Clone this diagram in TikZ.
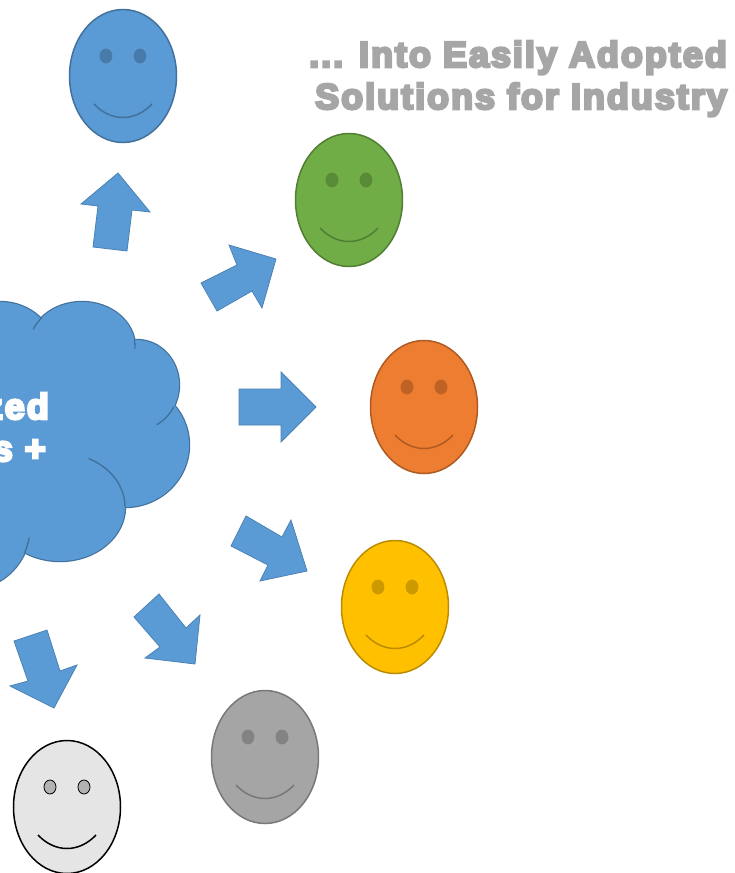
\documentclass[tikz,border=0pt]{standalone}
\usepackage{fontspec}
\newfontfamily\heavy[FakeBold=7,LetterSpace=5.5]{Liberation Sans Bold}
\definecolor{blu}{HTML}{5B9BD5}
\definecolor{bluD}{HTML}{41719C}
\definecolor{grn}{HTML}{70AD47}
\definecolor{grnD}{HTML}{507E32}
\definecolor{org}{HTML}{ED7D31}
\definecolor{orgD}{HTML}{AE5A21}
\definecolor{yel}{HTML}{FFC000}
\definecolor{yelD}{HTML}{BC8C00}
\definecolor{gry}{HTML}{A5A5A5}
\definecolor{gryD}{HTML}{787878}
\definecolor{txtg}{HTML}{A6A6A6}
\tikzset{
  x=1pt,y=-1pt,
  blockarrow/.style={fill=blu,draw=bluD!60!blu,line width=.8pt,line join=miter},
  cloudline/.style={draw=bluD,line width=1.4pt},
  headline/.style={text=txtg,font=\heavy\fontsize{36}{42}\selectfont,anchor=base east,inner sep=0pt},
  cloudtext/.style={text=white,font=\heavy\fontsize{36}{42}\selectfont,anchor=base east,inner sep=0pt},
}
% face: cx, cy, fill, outline, eye fill, eye outline
\newcommand{\smiley}[6]{%
  \draw[fill=#3,draw=#4,line width=1.5pt] (#1,#2) ellipse [x radius=53.5,y radius=66.5];
  \draw[fill=#5,draw=#6,line width=.8pt] (#1-17,#2-20) ellipse [x radius=6,y radius=7];
  \draw[fill=#5,draw=#6,line width=.8pt] (#1+17,#2-20) ellipse [x radius=6,y radius=7];
  \draw[draw=#4,line width=1.5pt] (#1-29,#2+28) .. controls (#1-12,#2+46) and (#1+12,#2+46) .. (#1+29,#2+28);
}
\newcommand{\lobe}[6]{\draw[cloudline] plot[smooth,domain=#5:#6,samples=14] ({#1+#3*cos(\x)},{#2+#4*sin(\x)});}
\begin{document}
\begin{tikzpicture}
\useasboundingbox (0,0) rectangle (735,873);
\clip (0,0) rectangle (735,873);
% cloud outline, then fill over it
\foreach \c/\d/\a/\b in {82/347/53/45,137/385/42/45,125/445/64/62,60/507/65/54,-30/527/60/62,0/352/55/50}{
  \draw[cloudline,line width=2.4pt,fill=blu] (\c,\d) ellipse [x radius=\a,y radius=\b];
}
\foreach \c/\d/\a/\b in {82/347/53/45,137/385/42/45,125/445/64/62,60/507/65/54,-30/527/60/62,0/352/55/50}{
  \fill[blu] (\c,\d) ellipse [x radius=\a,y radius=\b];
}
\fill[blu] (-5,340) rectangle (110,500);
\lobe{82}{347}{53}{45}{203}{221}
\lobe{82}{347}{53}{45}{-9}{2}
\lobe{137}{385}{42}{45}{29}{62}
\lobe{60}{507}{65}{54}{-64}{0}
\lobe{-30}{527}{60}{62}{10}{25}
\node[cloudtext] (cloudA) at (49,419) {zed};
\node[cloudtext] (cloudB) at (46,461) {s +};
% heading
\node[headline] (headA) at (727,67) {... Into Easily Adopted};
\node[headline] (headB) at (727,109) {Solutions for Industry};
% block arrows
\draw[blockarrow] (118,173)--(150,212)--(132,210)--(127,251)--(93,247)--(98,206)--(81,204)--cycle;
\draw[blockarrow] (276,259)--(229,245)--(237,265)--(201,283)--(217,311)--(252,291)--(262,308)--cycle;
\draw[blockarrow] (316,407)--(281,372)--(281,389)--(239,389)--(239,425)--(281,425)--(281,442)--cycle;
\draw[blockarrow] (307,571)--(291,520)--(282,537)--(246,516)--(231,546)--(268,565)--(260,581)--cycle;
\draw[blockarrow] (195,664)--(200,615)--(186,628)--(159,594)--(134,617)--(160,647)--(145,658)--cycle;
\draw[blockarrow] (54,708)--(77,665)--(60,671)--(47,630)--(14,641)--(28,681)--(10,686)--cycle;
% faces
\smiley{123}{76}{blu}{bluD}{bluD!75!blu}{bluD!75!blu}
\smiley{349}{200}{grn}{grnD}{grnD!75!grn}{grnD!75!grn}
\smiley{424}{407}{org}{orgD}{orgD!75!org}{orgD!75!org}
\smiley{395}{607}{yel}{yelD}{yelD!75!yel}{yelD!75!yel}
\smiley{265}{757}{gry}{gryD}{gryD!75!gry}{gryD!75!gry}
\smiley{67}{807}{black!10}{black}{black!30}{black}
\end{tikzpicture}
\end{document}
